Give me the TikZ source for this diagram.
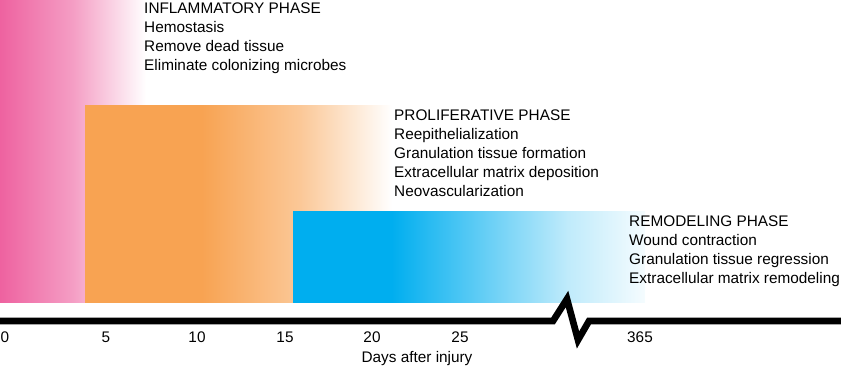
\documentclass[tikz,border=0pt]{standalone}
\usepackage{fontspec}
\setmainfont{Liberation Sans}
\usetikzlibrary{positioning}

\definecolor{inflam}{RGB}{238,98,160}
\definecolor{prolif}{RGB}{248,163,82}
\definecolor{remod}{RGB}{0,174,239}

\pgfdeclarehorizontalshading{inflamfade}{100bp}{color(0bp)=(inflam); color(25bp)=(inflam);
  color(50bp)=(inflam!62!white); color(75bp)=(white); color(100bp)=(white)}
\pgfdeclarehorizontalshading{prolifFade}{100bp}{color(0bp)=(prolif); color(25bp)=(prolif);
  color(44bp)=(prolif); color(60bp)=(prolif!60!white); color(75bp)=(white); color(100bp)=(white)}
\pgfdeclarehorizontalshading{remodfade}{100bp}{color(0bp)=(remod); color(25bp)=(remod);
  color(39bp)=(remod); color(54bp)=(remod!55!white); color(64bp)=(remod!25!white);
  color(75bp)=(remod!4!white); color(100bp)=(white)}

\begin{document}
\begin{tikzpicture}[x=0.03cm, y=-0.03cm,
    phase/.style={anchor=north west, inner sep=0pt, align=left,
                  font=\fontsize{13.1}{16.2}\selectfont},
    tick/.style={inner sep=0pt, font=\fontsize{13.1}{16.2}\selectfont},
    axis/.style={line width=0.2cm, line join=miter, miter limit=20}]
  \useasboundingbox (0,0) rectangle (841,368);

  % phase bands
  \shade[shading=inflamfade] (0,0)   rectangle (146,302);
  \shade[shading=prolifFade] (85,105) rectangle (392,302);
  \shade[shading=remodfade]  (293,211) rectangle (645,302);

  \node[phase] (inflam) at (144,3)   {INFLAMMATORY PHASE\\Hemostasis\\Remove dead tissue\\Eliminate colonizing microbes};
  \node[phase] (prolif) at (394,110) {PROLIFERATIVE PHASE\\Reepithelialization\\Granulation tissue formation\\Extracellular matrix deposition\\Neovascularization};
  \node[phase] (remod)  at (629,216) {REMODELING PHASE\\Wound contraction\\Granulation tissue regression\\Extracellular matrix remodeling};

  % time axis with break
  \coordinate (axL)   at (0,321);
  \coordinate (brkA)  at (553,321);
  \coordinate (brkUp) at (567,299);
  \coordinate (brkDn) at (578,340);
  \coordinate (brkB)  at (589,321);
  \coordinate (axR)   at (841,321);
  \draw[axis] (axL) -- (brkA) -- (brkUp) -- (brkDn) -- (brkB) -- (axR);

  \foreach \d/\x in {0/5,5/106,10/197,15/285,20/372,25/460,365/640}
    \node[tick] (t\d) at (\x,337) {\d};
  \node[tick] (days) at (417,359) {Days after injury};
\end{tikzpicture}
\end{document}
